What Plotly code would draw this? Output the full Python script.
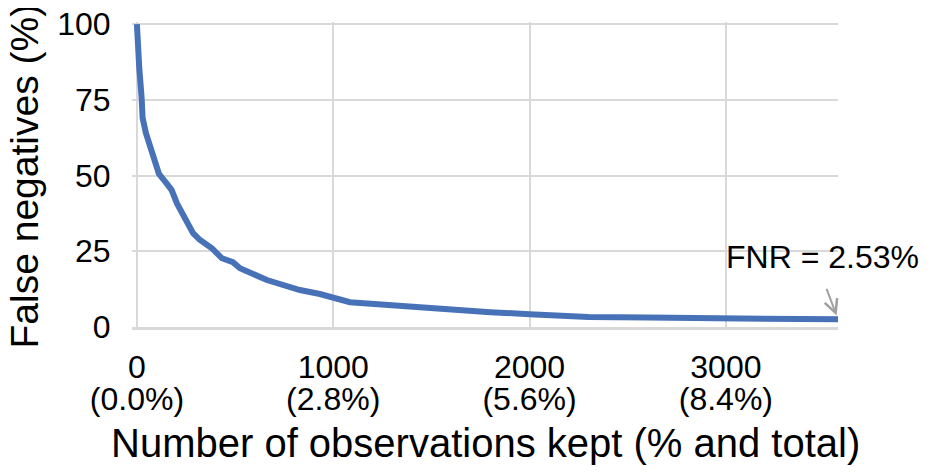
import plotly.graph_objects as go

# observations kept vs false negative rate
kept = [0, 5, 12, 24, 29, 46, 66, 88, 112, 151, 177, 204, 229, 255, 286, 320, 382, 433, 489,
        525, 662, 830, 932, 1085, 1200, 1400, 1600, 1800, 2000, 2300, 2600, 3000, 3300, 3571]
fnr = [100, 92, 85.5, 75.7, 69, 64, 59.4, 56, 50.6, 47.4, 45.2, 40.8, 37.5, 34.2, 31, 28.8, 26,
       22.7, 21.4, 19.4, 15.5, 12.2, 10.9, 8.2, 7.6, 6.6, 5.6, 4.9, 4.2, 3.3, 3.1, 2.8, 2.65, 2.53]

x_ticks = [0, 1000, 2000, 3000]
x_tick_counts = ["0", "1000", "2000", "3000"]
x_tick_pcts = ["(0.0%)", "(2.8%)", "(5.6%)", "(8.4%)"]
y_ticks = [0, 25, 50, 75, 100]

final_label = "FNR = 2.53%"
x_title = "Number of observations kept (% and total)"
y_title = "False negatives (%)"

FONT = "Liberation Sans, Arial, sans-serif"
GRID = "#D9D9D9"
CLEAR = "rgba(0,0,0,0)"

fig = go.Figure()
fig.add_trace(go.Scatter(x=kept, y=fnr, mode="lines",
                         line=dict(color="#4872B8", width=6), showlegend=False))

# page body adds ~8px offset, so the figure is a bit smaller than the window
fig.update_layout(
    width=928, height=466,
    margin=dict(l=124, r=98, t=14, b=147, autoexpand=False),
    paper_bgcolor="white", plot_bgcolor="white",
    font=dict(family=FONT, size=32, color="black"),
    xaxis=dict(
        range=[-25, 3571], automargin=False,
        tickvals=x_ticks, ticktext=x_tick_counts,
        showgrid=True, gridcolor=GRID, gridwidth=2,
        showline=True, linecolor=GRID, linewidth=3,
        zeroline=False, ticks="", ticklabelstandoff=10,
    ),
    xaxis2=dict(
        overlaying="x", side="bottom", matches="x", automargin=False,
        range=[-25, 3571],
        tickvals=x_ticks, ticktext=x_tick_pcts,
        showgrid=False, zeroline=False, showline=False, ticks="",
        ticklabelstandoff=50,
    ),
    yaxis=dict(
        range=[0, 100.7], tickvals=y_ticks, automargin=False,
        showgrid=True, gridcolor=GRID, gridwidth=2,
        showline=False, zeroline=False,
        ticks="outside", ticklen=14, tickcolor=CLEAR,
        ticklabeloverflow="allow",
    ),
)

# invisible trace so the second x axis is drawn
fig.add_trace(go.Scatter(x=[kept[0]], y=[fnr[-1]], xaxis="x2", mode="markers",
                         marker=dict(opacity=0), hoverinfo="skip", showlegend=False))

# axis titles as annotations so they can sit outside plotly's title limits
fig.add_annotation(x=0.5, y=-0.379, xref="paper", yref="paper", text=x_title,
                   showarrow=False, xanchor="center", yanchor="middle",
                   font=dict(family=FONT, size=40, color="black"))
fig.add_annotation(x=0, y=0.5, xref="paper", yref="paper", text=y_title, textangle=-90,
                   showarrow=False, xanchor="center", yanchor="middle", xshift=-108, yshift=-2,
                   font=dict(family=FONT, size=39, color="black"))
fig.add_annotation(x=kept[-1], y=fnr[-1], ax=-12, ay=-32, text="", showarrow=True,
                   arrowhead=5, arrowsize=1.3, arrowwidth=2, arrowcolor="#A0A0A0", standoff=4)
fig.add_annotation(x=3490, y=23, text=final_label, showarrow=False,
                   xanchor="center", yanchor="middle",
                   font=dict(family=FONT, size=32, color="black"))

fig.write_html("out.html")
